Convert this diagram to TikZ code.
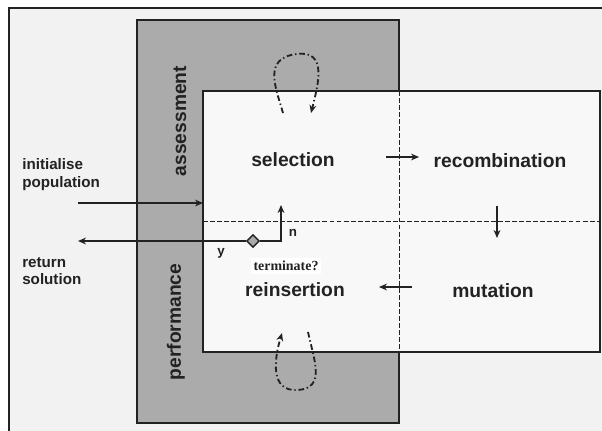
\documentclass[tikz,border=0pt]{standalone}
\usepackage{fontspec}
\setmainfont{Liberation Sans}
\newfontfamily\gaserif{Liberation Serif}
\usetikzlibrary{arrows.meta,shapes.geometric,positioning}
\definecolor{gaPage}{HTML}{F2F2F2}
\definecolor{gaBand}{HTML}{ABABAB}
\definecolor{gaCore}{HTML}{F8F8F8}
\definecolor{gaEdge}{HTML}{222222}
\tikzset{
  garegion/.style={draw=gaEdge,line width=0.9pt,inner sep=0pt,outer sep=0pt,anchor=north west},
  gastage/.style={font=\fontsize{13.7}{16}\selectfont\bfseries,text=gaEdge,inner sep=0pt},
  gaband/.style={gastage,rotate=90},
  gaside/.style={font=\fontsize{10.8}{12.6}\selectfont\bfseries,text=gaEdge,align=left,
                 inner sep=0pt,anchor=north west},
  galbl/.style={font=\fontsize{9.5}{11}\selectfont\bfseries,text=gaEdge,inner sep=0pt},
  gaflow/.style={-{Stealth[length=2mm,width=1.7mm]},draw=gaEdge,line width=1pt},
  gastep/.style={gaflow,line width=0.8pt},
  galoop/.style={gaflow,line width=1.3pt,dash pattern=on 4pt off 2pt on 1pt off 2pt},
  gadiv/.style={draw=gaEdge,line width=0.7pt,dash pattern=on 3.5pt off 1.5pt},
  gadec/.style={diamond,draw=gaEdge,fill=gaBand,line width=0.9pt,minimum size=3.2mm,inner sep=0pt},
}
\begin{document}
\begin{tikzpicture}[x=0.25mm,y=-0.25mm]
  \useasboundingbox (0,0) rectangle (602,431);
  % page and its frame
  \fill[gaPage] (9,8) rectangle (602,431);
  \draw[gaEdge,line width=1.3pt] (9,431) -- (9,8) -- (602,8);

  % assessment / performance band and the cycle
  \node[garegion,fill=gaBand,minimum width=65.5mm,minimum height=100.75mm] (band) at (137,20) {};
  \node[garegion,fill=gaCore,minimum width=99.25mm,minimum height=65.25mm] (core) at (203,91) {};
  \draw[gadiv] (band.east |- core.north) -- (band.east |- core.south);
  \draw[gadiv] (core.west) -- (core.east);

  \node[gaband] (assess) at (180,121) {assessment};
  \node[gaband] (perf) at (176,322) {performance};

  \node[gastage] (sel) at (293,160) {selection};
  \node[gastage] (rec) at (500,161) {recombination};
  \node[gastage] (reins) at (295,290) {reinsertion};
  \node[gastage] (mut) at (493,291) {mutation};

  \node[gaside] (init) at (22,158) {initialise\\population};
  \node[gaside] (ret) at (22,257) {return\\solution};

  \node[gadec] (term) at (253,241) {};
  \node[galbl] (yes) at (221,253) {y};
  \node[galbl] (no) at (293,233) {n};
  \node[galbl,font=\gaserif\fontsize{9.9}{11}\selectfont\bfseries,fill=white,inner sep=2pt] (termq) at (286,266) {terminate?};

  % connectors
  \coordinate (initS) at (78,203);
  \coordinate (retE) at (78,241);
  \coordinate (nTip) at (281,205);
  \draw[gaflow] (initS) -- (initS -| core.west);
  \draw[gaflow] (term.west) -- (retE);
  \draw[gaflow] (term.east) -| (nTip);

  \coordinate (selA) at (386,157);
  \coordinate (recB) at (419,157);
  \coordinate (recA) at (497,206);
  \coordinate (mutB) at (497,238);
  \coordinate (mutA) at (412,287);
  \coordinate (reinsB) at (379,287);
  \draw[gastep] (selA) -- (recB);
  \draw[gastep] (recA) -- (mutB);
  \draw[gastep] (mutA) -- (reinsB);

  % assessment and performance loops
  \coordinate (selIn) at (283,113);
  \coordinate (selOut) at (311,113);
  \draw[galoop] (selIn) .. controls (276,88) and (262,58) .. (297,54)
        .. controls (328,50) and (318,85) .. (selOut);
  \coordinate (reinsIn) at (308,332);
  \coordinate (reinsOut) at (282,333);
  \draw[galoop] (reinsIn) .. controls (314,360) and (326,388) .. (298,390)
        .. controls (270,392) and (274,360) .. (reinsOut);
\end{tikzpicture}
\end{document}
